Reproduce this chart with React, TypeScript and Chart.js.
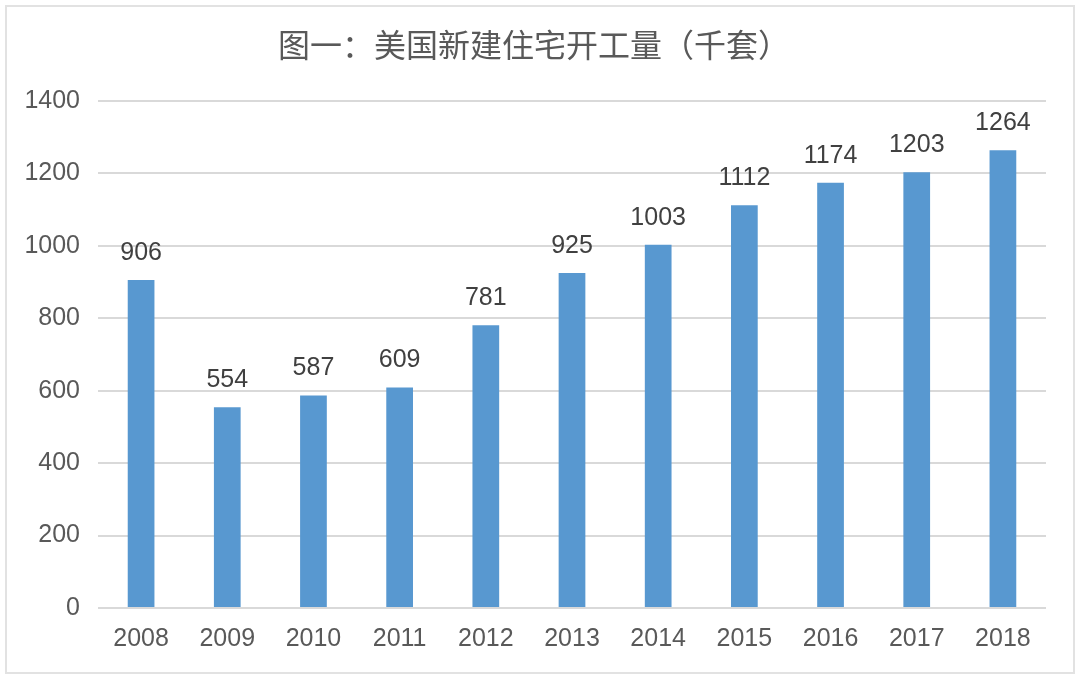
import React, { useEffect, useRef } from "react";
import { Chart, registerables } from "chart.js";

Chart.register(...registerables);

const titleText = "图一：美国新建住宅开工量（千套）";
const years = ["2008", "2009", "2010", "2011", "2012", "2013", "2014", "2015", "2016", "2017", "2018"];
const starts = [906, 554, 587, 609, 781, 925, 1003, 1112, 1174, 1203, 1264];
const yMin = 0;
const yMax = 1400;
const yStep = 200;

const NUM_FONT = "'Liberation Sans', Arial, sans-serif";
const CJK_FONT = "'Noto Sans CJK SC', 'Noto Sans', sans-serif";

const labelPlugin = {
  id: "valueLabels",
  afterDatasetsDraw(chart: any) {
    const ctx = chart.ctx;
    const meta = chart.getDatasetMeta(0);
    ctx.save();
    ctx.font = `25px ${NUM_FONT}`;
    ctx.fillStyle = "#404040";
    ctx.textAlign = "center";
    ctx.textBaseline = "alphabetic";
    meta.data.forEach((bar: any, i: number) => {
      ctx.fillText(String(chart.data.datasets[0].data[i]), bar.x, bar.y - 20);
    });
    ctx.restore();
  },
};

const titlePlugin = {
  id: "customTitle",
  afterDraw(chart: any) {
    const ctx = chart.ctx;
    ctx.save();
    ctx.font = `400 32px ${CJK_FONT}`;
    ctx.fillStyle = "#595959";
    ctx.textAlign = "center";
    ctx.textBaseline = "middle";
    ctx.fillText(titleText, 534, 45);
    ctx.restore();
  },
};

export default function App() {
  const ref = useRef<HTMLCanvasElement>(null);
  useEffect(() => {
    if (!ref.current) return;
    const chart = new Chart(ref.current, {
      type: "bar",
      data: {
        labels: years,
        datasets: [
          {
            data: starts,
            backgroundColor: "#5898d0",
            barPercentage: 0.31,
            categoryPercentage: 1,
          },
        ],
      },
      plugins: [labelPlugin, titlePlugin],
      options: {
        responsive: false,
        animation: false,
        layout: { padding: { top: 101, right: 34, left: 10, bottom: 10 } },
        plugins: { legend: { display: false }, title: { display: false }, tooltip: { enabled: false } },
        scales: {
          x: {
            grid: { display: false, drawTicks: false },
            border: { display: false },
            ticks: { color: "#595959", font: { size: 25, family: NUM_FONT }, padding: 16, maxRotation: 0 },
            afterFit: (s: any) => {
              s.height = 60;
            },
          },
          y: {
            min: yMin,
            max: yMax,
            grid: { color: "#d9d9d9", lineWidth: 2, drawTicks: false },
            border: { display: false },
            ticks: {
              stepSize: yStep,
              color: "#595959",
              font: { size: 25, family: NUM_FONT },
              padding: 18,
              callback: (v: any) => String(v),
            },
            afterFit: (s: any) => {
              s.width = 88;
            },
          },
        },
      },
    });
    return () => chart.destroy();
  }, []);
  return (
    <div style={{ position: "fixed", left: 0, top: 0, width: 1080, height: 678, background: "#fff" }}>
      <div
        style={{
          position: "absolute",
          left: 5,
          top: 5,
          width: 1066,
          height: 665,
          border: "2px solid #e2e2e2",
          boxSizing: "content-box",
        }}
      />
      <canvas ref={ref} width={1080} height={678} style={{ position: "absolute", left: 0, top: 0 }} />
    </div>
  );
}
